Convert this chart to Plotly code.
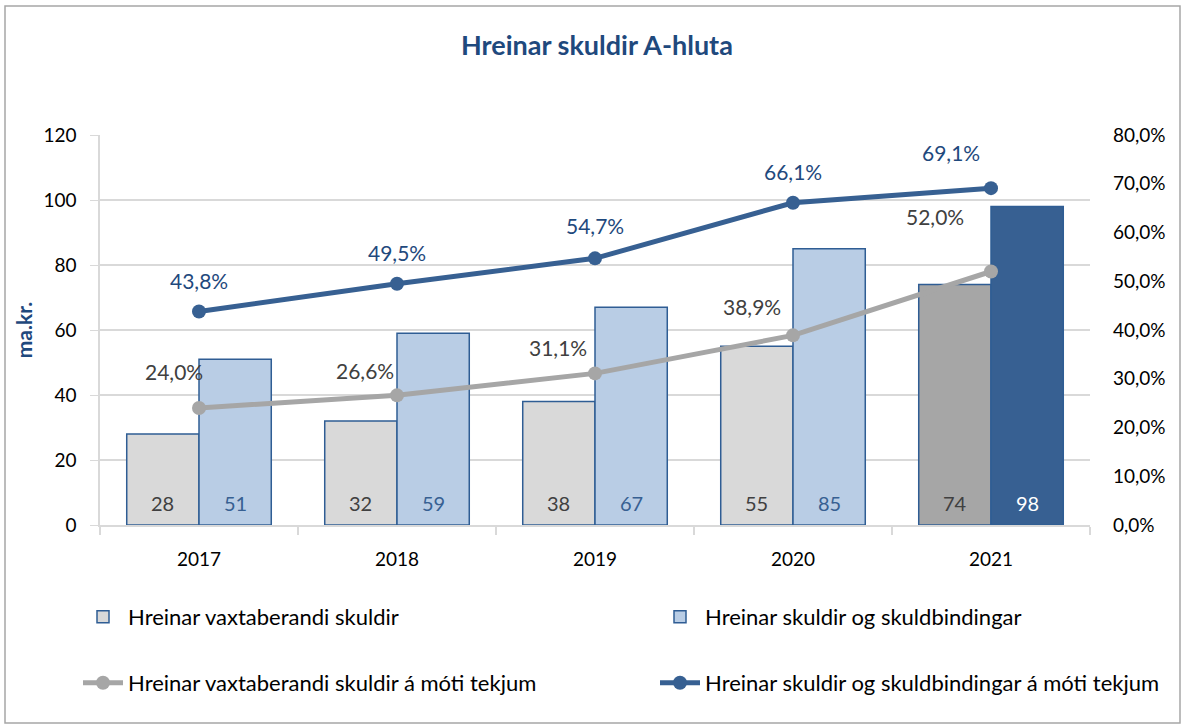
import plotly.graph_objects as go

years = ["2017", "2018", "2019", "2020", "2021"]
vaxtab = [28, 32, 38, 55, 74]
skuldir = [51, 59, 67, 85, 98]
vaxtab_pct = [24.0, 26.6, 31.1, 38.9, 52.0]
skuldir_pct = [43.8, 49.5, 54.7, 66.1, 69.1]

name_bar1 = "Hreinar vaxtaberandi skuldir"
name_bar2 = "Hreinar skuldir og skuldbindingar"
name_line1 = "Hreinar vaxtaberandi skuldir á móti tekjum"
name_line2 = "Hreinar skuldir og skuldbindingar á móti tekjum"
title = "Hreinar skuldir A-hluta"

FONT = "Lato, Calibri, Carlito, sans-serif"
NAVY = "#1F497D"
BLUE = "#376092"
EDGE = "#2F5D94"
LGRAY = "#D9D9D9"
LBLUE = "#B9CDE5"
DGRAY = "#A6A6A6"
TXT = "#404040"
GRID = "#D9D9D9"

xpos = list(range(len(years)))

def fmt_pct(v):
    return f"{v:.1f}%".replace(".", ",")

# per-point label offsets (px) for the percent labels
gray_off = [(-25, 37), (-32, 25), (-37, 26), (-41, 29), (-56, 55)]
blue_off = [(0, 31), (0, 31), (0, 33), (0, 31), (-40, 36)]

# body margin is removed via post_script, so the figure starts at window (0,0)
FW, FH = 1186, 728

# plot area in window px: x 100..1090, y 135..525
L, R, T, B = 100, FW - 1090, 135, FH - 525
W, H = FW - L - R, FH - T - B
BARGAP = 0.27

def px_x(p):
    return (p - L) / W

def px_y(p):
    return (FH - B - p) / H

half_bar = W / len(years) * (1 - BARGAP) / 4  # centre offset of each bar in a group

fig = go.Figure()

fig.add_trace(go.Bar(
    x=xpos, y=vaxtab, name=name_bar1, offsetgroup="a",
    marker=dict(color=[LGRAY] * 4 + [DGRAY], line=dict(color=EDGE, width=1.5)),
    legend="legend", hoverinfo="x+y",
))
fig.add_trace(go.Bar(
    x=xpos, y=skuldir, name=name_bar2, offsetgroup="b",
    marker=dict(color=[LBLUE] * 4 + [BLUE], line=dict(color=EDGE, width=1.5)),
    legend="legend2", hoverinfo="x+y",
))
fig.add_trace(go.Scatter(
    x=xpos, y=vaxtab_pct, name=name_line1, yaxis="y2", mode="lines+markers",
    line=dict(color=DGRAY, width=5), marker=dict(color=DGRAY, size=14),
    legend="legend3",
))
fig.add_trace(go.Scatter(
    x=xpos, y=skuldir_pct, name=name_line2, yaxis="y2", mode="lines+markers",
    line=dict(color=BLUE, width=5), marker=dict(color=BLUE, size=14),
    legend="legend4",
))

annotations = []
# bar value labels near the base of each bar
for i, v in enumerate(vaxtab):
    annotations.append(dict(x=xpos[i], y=0, xref="x", yref="y", text=str(v),
                            showarrow=False, xshift=-half_bar * 2 / 2 * 1.0 - 0, yshift=22,
                            xanchor="center", yanchor="middle",
                            font=dict(family=FONT, size=20, color=TXT)))
for i, v in enumerate(skuldir):
    annotations.append(dict(x=xpos[i], y=0, xref="x", yref="y", text=str(v),
                            showarrow=False, xshift=half_bar, yshift=22,
                            xanchor="center", yanchor="middle",
                            font=dict(family=FONT, size=20, color=BLUE if i < 4 else "white")))
for i, v in enumerate(vaxtab_pct):
    dx, dy = gray_off[i]
    annotations.append(dict(x=xpos[i], y=v, xref="x", yref="y2", text=fmt_pct(v),
                            showarrow=False, xshift=dx, yshift=dy,
                            xanchor="center", yanchor="middle",
                            font=dict(family=FONT, size=21, color=TXT)))
for i, v in enumerate(skuldir_pct):
    dx, dy = blue_off[i]
    annotations.append(dict(x=xpos[i], y=v, xref="x", yref="y2", text=fmt_pct(v),
                            showarrow=False, xshift=dx, yshift=dy,
                            xanchor="center", yanchor="middle",
                            font=dict(family=FONT, size=21, color=NAVY)))

shapes = [dict(type="rect", xref="paper", yref="paper",
               x0=px_x(5), x1=px_x(1180), y0=px_y(723), y1=px_y(6),
               line=dict(color="#A6A6A6", width=1.5), fillcolor="rgba(0,0,0,0)", layer="below")]

annotations.append(dict(x=px_x(597), y=px_y(45), xref="paper", yref="paper", text=f"<b>{title}</b>",
                        xanchor="center", yanchor="middle",
                        showarrow=False, font=dict(family=FONT, size=27, color=NAVY)))

boundaries = [i - 0.5 for i in range(len(years) + 1)]

def leg(xp, yp):
    return dict(orientation="h", x=px_x(xp), y=px_y(yp), xanchor="left", yanchor="middle",
                font=dict(family=FONT, size=22, color="#000"),
                bgcolor="rgba(0,0,0,0)", itemwidth=40)

fig.update_layout(
    width=FW, height=FH,
    margin=dict(l=L, r=R, t=T, b=B, autoexpand=False),
    paper_bgcolor="white", plot_bgcolor="white",
    font=dict(family=FONT, size=19, color="#000000"),
    barmode="group", bargap=BARGAP, bargroupgap=0,
    xaxis=dict(range=[-0.5, len(years) - 0.5], tickmode="array", tickvals=xpos, ticktext=years,
               showline=True, linecolor=GRID, linewidth=1.5,
               ticks="", tickfont=dict(family=FONT, size=19, color="#000"), showgrid=False,
               zeroline=False, ticklabelstandoff=16,
               minor=dict(tickmode="array", tickvals=boundaries, ticks="outside", ticklen=8,
                          tickcolor=GRID, tickwidth=1.5, showgrid=False)),
    yaxis=dict(range=[0, 120], dtick=20, showgrid=True, gridcolor=GRID, gridwidth=1.5,
               showline=True, linecolor=GRID, linewidth=1.5, ticks="outside", ticklen=8,
               tickcolor=GRID, tickfont=dict(family=FONT, size=19, color="#000"),
               zeroline=False, ticklabelstandoff=10,
               title=dict(text="<b>ma.kr.</b>", font=dict(family=FONT, size=21, color=NAVY), standoff=5)),
    yaxis2=dict(range=[0, 80], dtick=10, overlaying="y", side="right", showgrid=False,
                showline=False, zeroline=False, ticks="", ticksuffix="%",
                tickformat=".1f", ticklabelstandoff=22,
                tickfont=dict(family=FONT, size=19, color="#000")),
    separators=",.",
    legend=leg(78, 617),
    legend2=leg(655, 617),
    legend3=leg(78, 683),
    legend4=leg(655, 683),
    shapes=shapes,
    annotations=annotations,
    showlegend=True,
)

fig.write_html("out.html", config={"displayModeBar": False},
               post_script="document.body.style.margin='0';document.body.style.overflow='hidden';")
